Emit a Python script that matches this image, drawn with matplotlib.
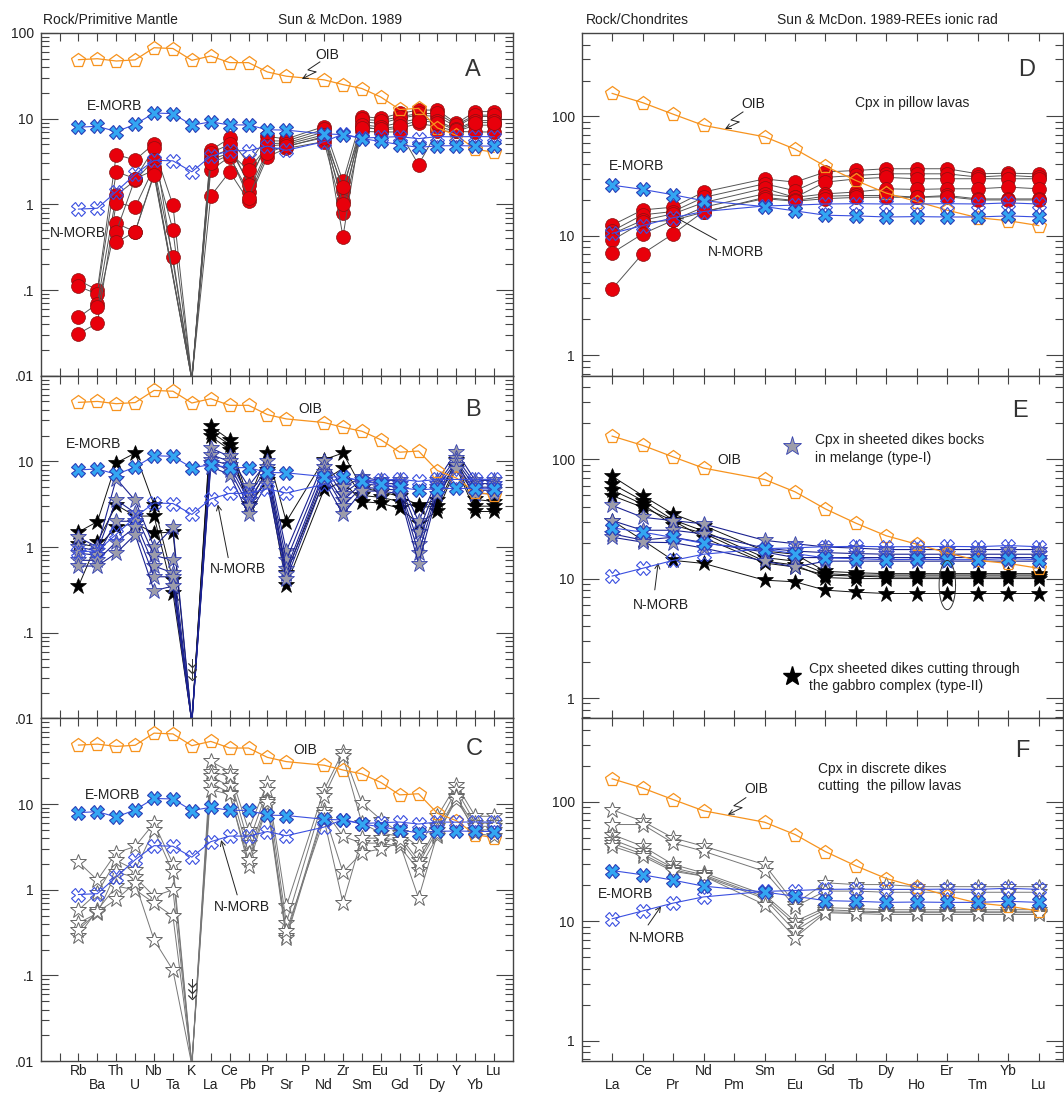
import numpy as np
import matplotlib
matplotlib.use("Agg")
import matplotlib.pyplot as plt
from matplotlib import font_manager
from matplotlib.path import Path
from matplotlib.ticker import FixedLocator, FixedFormatter, NullLocator

_names = {f.name for f in font_manager.fontManager.ttflist}
BASE = "Liberation Sans" if "Liberation Sans" in _names else "DejaVu Sans"
NARROW = "Liberation Sans Narrow" if "Liberation Sans Narrow" in _names else BASE
plt.rcParams["font.family"] = [BASE, "DejaVu Sans"]

nan = np.nan

# ---------------------------------------------------------------- elements
spider_elements = ["Rb", "Ba", "Th", "U", "Nb", "Ta", "K", "La", "Ce", "Pb", "Pr", "Sr",
                   "P", "Nd", "Zr", "Sm", "Eu", "Gd", "Ti", "Dy", "Y", "Yb", "Lu"]
ree_elements = ["La", "Ce", "Pr", "Nd", "Pm", "Sm", "Eu", "Gd", "Tb", "Dy", "Ho", "Er",
                "Tm", "Yb", "Lu"]

# ------------------------------------------- reference basalts (primitive mantle)
oib_pm = [48.8, 50.1, 47.1, 48.6, 67.3, 65.9, 48.0, 53.9, 45.1, 45.1, 35.1, 31.3,
          nan, 28.4, 25.0, 22.5, 17.9, 12.8, 13.2, 7.8, 6.4, 4.4, 4.05]
emorb_pm = [7.94, 8.16, 7.06, 8.57, 11.64, 11.46, 8.4, 9.17, 8.45, 8.45, 7.43, 7.35,
            nan, 6.65, 6.52, 5.86, 5.42, 4.98, 4.62, 4.82, 4.84, 4.81, 4.78]
nmorb_pm = [0.88, 0.90, 1.41, 2.24, 3.27, 3.22, 2.4, 3.64, 4.23, 4.23, 4.78, 4.27,
            nan, 5.39, 6.6, 5.92, 6.07, 6.17, 5.85, 6.17, 6.15, 6.19, 6.15]

# ------------------------------------------------ reference basalts (chondrite)
oib_ch = [156, 130.5, 104.5, 84.2, nan, 67.6, 53.3, 38.3, 29.1, 22.8, 19.4, 16.4, 14.2, 13.4, 12.2]
emorb_ch = [26.6, 24.5, 22.1, 19.7, nan, 17.6, 16.2, 14.9, 14.7, 14.4, 14.5, 14.4, 14.4, 14.7, 14.4]
nmorb_ch = [10.5, 12.2, 14.2, 16.0, nan, 17.8, 18.1, 18.5, 18.6, 18.5, 18.5, 18.6, 18.5, 18.9, 18.5]

# ------------------------------------------- A: cpx in pillow lavas (spider)
pillow_pm = [
    [0.13, 0.10, 3.8, 3.3, 5.1, nan, 0.009, 4.3, 5.9, 3.0, 6.2, 5.8, nan, 8.1, 1.85, 10.6, 10.1, 11.5, 12.6, 12.6, 8.8, 12.1, 12.1],
    [0.11, 0.09, 2.4, 2.0, 4.5, 0.98, 0.009, 3.6, 4.4, 1.85, 5.1, 5.2, nan, 7.0, 1.45, 9.2, 8.8, 10.1, 11.0, 10.6, 8.1, 10.6, 10.6],
    [0.048, 0.069, 1.28, 1.9, 3.3, 0.5, 0.009, 2.5, 3.6, 1.4, 4.3, 4.7, nan, 6.2, 1.1, 8.1, 7.4, 7.7, 8.8, 8.1, 7.1, 8.4, 8.4],
    [0.031, 0.041, 1.05, 0.93, 2.7, 0.24, 0.009, 1.25, 2.4, 1.1, 3.6, 4.5, nan, 5.4, 0.79, 7.1, 7.0, 7.0, 2.9, 7.2, 7.1, 7.0, 7.0],
    [nan, 0.063, 0.6, 0.48, 2.3, nan, 0.009, 4.0, 5.0, 1.7, 5.5, 5.5, nan, 7.5, 0.42, 9.8, 9.5, 10.5, 11.5, 11.5, 8.5, 11.0, 11.0],
    [nan, nan, 0.48, 2.0, 2.5, nan, 0.009, 3.3, 4.0, 2.5, 4.8, 5.0, nan, 6.5, 1.0, 8.5, 8.0, 9.0, 10.0, 9.5, 7.5, 9.5, 9.5],
    [nan, nan, 0.36, 0.48, 2.2, nan, 0.009, 3.0, 3.8, 1.2, 4.0, 4.8, nan, 6.0, 1.6, 7.8, 7.6, 8.2, 9.5, 9.0, 7.3, 9.0, 9.0],
]

# ------------------------------------ B: sheeted dikes, type-I and type-II (spider)
dikes_type1_pm = [
    [1.3, 1.0, 6.3, 3.5, 1.0, 1.7, 0.009, 14.3, 11.4, 5.1, 10.0, 0.9, nan, 10.0, 5.0, 6.5, 6.0, 6.0, 2.0, 6.0, 13.0, 6.0, 6.0],
    [1.0, 0.9, 3.55, 2.5, 0.8, 0.7, 0.009, 12.0, 10.0, 4.0, 8.5, 0.7, nan, 8.5, 4.2, 6.0, 5.5, 5.5, 1.5, 5.5, 11.0, 5.5, 5.5],
    [0.85, 0.8, 2.0, 2.0, 0.6, 0.5, 0.009, 10.5, 9.0, 3.5, 7.5, 0.55, nan, 7.5, 3.5, 5.5, 5.2, 5.0, 1.1, 5.0, 10.0, 5.0, 5.0],
    [0.7, 0.7, 1.15, 1.7, 0.45, 0.45, 0.009, 9.5, 8.0, 3.0, 6.5, 0.48, nan, 7.0, 3.0, 5.0, 4.8, 4.6, 0.85, 4.6, 9.0, 4.6, 4.6],
    [0.6, 0.6, 0.85, 1.4, 0.31, 0.35, 0.009, 8.7, 7.0, 2.4, 5.5, 0.42, nan, 6.0, 2.4, 4.5, 4.5, 4.2, 0.64, 4.2, 8.2, 4.2, 4.2],
]
dikes_type2_pm = [
    [1.5, 1.98, 9.6, 12.5, 3.1, 0.41, 0.009, 25.7, 17.9, 3.5, 12.5, 1.98, nan, 10.5, 12.5, 4.9, 4.45, 3.9, 3.1, 3.55, 10.5, 3.6, 3.4],
    [0.35, 1.15, 3.1, 2.3, 2.3, 0.29, 0.009, 22.0, 15.7, 3.0, 6.1, 0.36, nan, 4.7, 5.8, 3.4, 3.25, 2.84, 1.9, 2.6, 8.5, 2.6, 2.6],
    [1.1, 1.0, 1.7, 1.9, 1.45, 1.5, 0.009, 19.6, 13.7, 3.2, 8.0, 0.5, nan, 6.0, 8.3, 4.0, 3.8, 3.4, 2.9, 3.0, 9.0, 3.0, 3.0],
]

# ------------------------------------------------ C: discrete dikes (spider)
discrete_pm = [
    [2.1, 1.3, 2.7, 3.2, 6.0, 2.0, 0.009, 31.5, 24.0, 5.0, 17.6, 0.64, nan, 14.7, 41.0, 10.3, 6.6, 4.6, 3.2, 7.2, 16.8, 7.2, 7.2],
    [0.58, 0.92, 2.2, 1.7, 5.0, 1.6, 0.009, 24.0, 21.0, 3.5, 14.7, 0.41, nan, 12.3, 36.0, 6.0, 4.6, 4.2, 2.2, 5.5, 14.7, 6.0, 6.0],
    [0.41, 0.53, 1.6, 1.4, 0.84, 1.0, 0.009, 21.0, 16.2, 2.7, 11.2, 0.29, nan, 8.6, 4.2, 3.5, 3.5, 3.2, 1.7, 4.2, 12.3, 4.6, 4.2],
    [0.29, 0.58, 1.1, 1.0, 0.7, 0.49, 0.009, 17.6, 13.5, 1.9, 9.8, 0.27, nan, 7.9, 1.6, 2.7, 3.0, 3.5, 0.8, 4.5, 11.2, 5.0, 5.0],
    [0.34, 0.55, 0.77, 1.2, 0.26, 0.115, 0.009, 14.7, 13.0, 2.2, 10.5, 0.33, nan, 6.6, 0.7, 4.0, 4.0, 3.8, 2.0, 5.0, 12.0, 5.5, 5.5],
]

# ---------------------------------------------------- D: pillow lavas (REE)
pillow_ch = [
    [12.3, 16.5, 17.4, 23.3, nan, 30.0, 28.2, 34.3, 35.3, 36.5, 36.5, 36.5, 33.1, 33.5, 33.1],
    [11.0, 15.0, 16.0, 21.0, nan, 27.3, 23.9, 30.9, 32.1, 33.1, 33.1, 33.1, 31.1, 32.1, 31.1],
    [10.4, 13.5, 15.3, 19.0, nan, 25.0, 21.0, 28.2, 30.0, 30.9, 30.1, 30.1, 30.1, 30.1, 30.1],
    [9.2, 13.0, 13.5, 17.4, nan, 22.5, 21.0, 22.5, 23.3, 24.8, 24.5, 24.8, 24.8, 25.6, 24.8],
    [7.2, 10.4, 13.5, 15.8, nan, 21.0, 19.8, 21.5, 21.8, 21.8, 21.1, 21.8, 20.4, 20.4, 20.4],
    [3.6, 7.1, 10.4, 16.0, nan, 20.5, 19.5, 20.5, 21.0, 21.1, 21.0, 21.3, 20.0, 20.0, 20.0],
]

# --------------------------------------------- E: sheeted dikes (REE)
dikes_type1_ch = [
    [41.0, 32.6, 30.6, 28.7, nan, 20.9, 19.6, 18.4, 18.0, 17.5, 17.5, 17.5, 17.5, 17.5, 17.5],
    [30.6, 25.4, 25.4, 23.7, nan, 18.0, 17.0, 16.5, 16.2, 16.0, 16.0, 16.0, 16.0, 16.0, 16.0],
    [23.7, 21.0, 22.2, 20.0, nan, 16.7, 15.0, 15.0, 15.0, 15.0, 15.0, 15.0, 15.0, 15.0, 15.0],
    [22.2, 20.2, 20.0, 18.0, nan, 14.0, 12.5, 14.0, 14.0, 14.0, 14.0, 14.0, 14.0, 14.0, 14.0],
]
dikes_type2_ch = [
    [72.0, 49.5, 34.8, 27.8, nan, 17.0, 16.0, 11.5, 11.2, 11.0, 11.0, 11.0, 11.0, 11.0, 11.0],
    [62.0, 45.0, 31.0, 25.0, nan, 15.0, 14.0, 11.0, 10.7, 10.7, 10.7, 10.7, 10.7, 10.7, 10.7],
    [55.0, 42.0, 28.0, 24.0, nan, 14.0, 13.0, 10.2, 10.0, 10.0, 10.0, 10.0, 10.0, 10.0, 10.0],
    [49.5, 39.5, 30.6, 22.0, nan, 13.5, 12.5, 10.7, 10.5, 10.3, 10.3, 10.3, 10.3, 10.3, 10.3],
    [30.6, 21.0, 14.2, 13.4, nan, 9.7, 9.4, 8.0, 7.7, 7.5, 7.5, 7.5, 7.5, 7.5, 7.5],
]

# --------------------------------------------- F: discrete dikes (REE)
discrete_ch = [
    [86.0, 68.8, 49.9, 42.5, nan, 29.9, 14.0, 21.0, 20.3, 20.3, 19.5, 19.5, 19.5, 19.5, 19.5],
    [64.6, 64.6, 45.3, 38.6, nan, 26.2, 13.3, 17.9, 17.9, 17.5, 17.5, 17.5, 17.5, 17.5, 17.5],
    [53.3, 42.5, 29.9, 25.4, nan, 16.7, 10.0, 13.0, 12.8, 12.5, 12.5, 12.5, 12.5, 12.5, 12.5],
    [48.4, 38.6, 28.0, 24.5, nan, 16.0, 9.4, 12.5, 12.2, 12.0, 12.0, 12.0, 12.0, 12.0, 12.0],
    [45.0, 36.5, 27.0, 23.9, nan, 15.5, 8.3, 12.0, 11.9, 11.8, 11.8, 11.8, 11.8, 11.8, 11.8],
    [42.5, 35.1, 26.2, 23.9, nan, 13.8, 7.3, 11.8, 11.6, 11.4, 11.4, 11.4, 11.4, 11.4, 11.4],
]

# ------------------------------------------------------------------ styling
C_OIB = "#F7931E"
C_MORB_LINE = "#3A4FE0"
C_EMORB_FACE = "#33A6F2"
C_EMORB_EDGE = "#2A3FB8"
C_RED = "#E8000B"
C_NAVY = "#1B2290"
C_TEXT = "#222222"
C_SPINE = "#444444"
C_LETTER = "#333333"

W, H = 1064, 1093
fig = plt.figure(figsize=(W / 100, H / 100), dpi=100)


def rect(x0, y0, x1, y1):
    return [x0 / W, 1 - y1 / H, (x1 - x0) / W, (y1 - y0) / H]


TOPS = [33.0, 375.7, 718.4]
PH = 342.7
LEFT_X = (40.7, 513.0)
RIGHT_X = (581.7, 1062.5)

x_sp = np.arange(1, len(spider_elements) + 1)
x_ree = np.arange(1, len(ree_elements) + 1)


def series(ax, x, vals, floor=None, **kw):
    v = np.asarray(vals, dtype=float)
    m = ~np.isnan(v)
    xs, vs = x[m], v[m]
    if floor is not None and "marker" in kw:
        # below-detection values keep their line but get no symbol
        kw["markevery"] = [i for i, val in enumerate(vs) if val >= floor]
    ax.plot(xs, vs, **kw)


def refs(ax, x, oib, emorb, nmorb):
    series(ax, x, oib, color=C_OIB, lw=0.9, marker="p", ms=10, mfc="none",
           mec=C_OIB, mew=0.9, zorder=5)
    series(ax, x, nmorb, color=C_MORB_LINE, lw=0.8, marker="X", ms=9.5, mfc="none",
           mec=C_MORB_LINE, mew=0.8, zorder=6)
    series(ax, x, emorb, color=C_MORB_LINE, lw=0.8, marker="X", ms=10, mfc=C_EMORB_FACE,
           mec=C_EMORB_EDGE, mew=0.8, zorder=7)


def style_axes(ax, kind, ylabels, xlabels):
    ax.set_yscale("log")
    for s in ax.spines.values():
        s.set_color(C_SPINE)
        s.set_linewidth(1.0)
    if kind == "spider":
        ax.set_xlim(-1, 24)
        ax.set_ylim(0.01, 100)
        majors = [0.01, 0.1, 1, 10, 100]
        names = {0.01: ".01", 0.1: ".1", 1: "1", 10: "10", 100: "100"}
        minors = [k * 10.0 ** e for e in range(-2, 2) for k in range(2, 10)]
        xt = list(range(0, 24))
        lab = [""] + [el if i % 2 == 1 else "\n" + el
                      for i, el in enumerate(spider_elements, start=1)]
    else:
        ax.set_xlim(0, 15.78)
        ax.set_ylim(0.675, 500)
        majors = [1, 10, 100]
        names = {1: "1", 10: "10", 100: "100"}
        minors = [k * 10.0 ** e for e in range(-1, 3) for k in range(2, 10)
                  if 0.675 < k * 10.0 ** e < 500]
        xt = list(range(1, 16))
        lab = ["\n" + el if i % 2 == 1 else el
               for i, el in enumerate(ree_elements, start=1)]
    ax.yaxis.set_major_locator(FixedLocator(majors))
    ax.yaxis.set_major_formatter(FixedFormatter(
        [names[m] if m in ylabels else "" for m in majors]))
    ax.yaxis.set_minor_locator(FixedLocator(minors))
    ax.yaxis.set_minor_formatter(FixedFormatter([""] * len(minors)))
    ax.set_xticks(xt)
    ax.set_xticklabels(lab)
    ax.xaxis.set_minor_locator(NullLocator())
    ax.tick_params(axis="y", which="major", direction="in", length=12, width=0.8,
                   left=True, right=True, labelsize=10, pad=5, color=C_SPINE,
                   labelcolor=C_TEXT)
    ax.tick_params(axis="y", which="minor", direction="in", length=6, width=0.8,
                   left=True, right=True, color=C_SPINE)
    ax.tick_params(axis="x", which="major", direction="in", length=6, width=0.8,
                   top=True, bottom=True, labelbottom=xlabels, labelsize=10, pad=2,
                   color=C_SPINE, labelcolor=C_TEXT)
    for t in ax.get_xticklabels():
        t.set_fontfamily([NARROW, "DejaVu Sans"])
        t.set_linespacing(1.05)


def txt(ax, x, y, s, size=10, ha="center", va="center", color=C_TEXT):
    ax.text(x, y, s, transform=ax.transAxes, fontsize=size, ha=ha, va=va,
            color=color, zorder=9)


def arrow(ax, tail, tip):
    ax.annotate("", xy=tip, xytext=tail, xycoords="axes fraction",
                textcoords="axes fraction",
                arrowprops=dict(arrowstyle="->", lw=0.7, color=C_TEXT,
                                shrinkA=0, shrinkB=0, mutation_scale=9))


def zigzag(ax, tip):
    # lightning-bolt leader from a label down to a curve
    tx, ty = ax.transAxes.transform(tip)
    pts_px = [(18, 17), (6, 9), (14, 7)]
    inv = ax.transAxes.inverted()
    pts = [inv.transform((tx + dx, ty + dy)) for dx, dy in pts_px]
    xs = [p[0] for p in pts]
    ys = [p[1] for p in pts]
    ax.plot(xs, ys, transform=ax.transAxes, color=C_TEXT, lw=0.7, zorder=8)
    ax.annotate("", xy=tip, xytext=tuple(pts[-1]), xycoords="axes fraction",
                textcoords="axes fraction",
                arrowprops=dict(arrowstyle="->", lw=0.7, color=C_TEXT,
                                shrinkA=0, shrinkB=0, mutation_scale=9), zorder=8)


chevron = Path([(-1.0, 0.5), (0.0, -0.5), (1.0, 0.5)],
               [Path.MOVETO, Path.LINETO, Path.LINETO])


def k_arrow(ax, top, bottom):
    ax.plot([7, 7], [top, bottom], color="#333333", lw=0.7, zorder=8)
    vals = np.geomspace(top * 0.85, bottom, 3)
    ax.plot([7] * 3, vals, linestyle="none", marker=chevron, ms=6, mfc="none",
            mec="#333333", mew=0.9, zorder=8)


axes = {}
for i, key in enumerate("ABC"):
    axes[key] = fig.add_axes(rect(LEFT_X[0], TOPS[i], LEFT_X[1], TOPS[i] + PH))
for i, key in enumerate("DEF"):
    axes[key] = fig.add_axes(rect(RIGHT_X[0], TOPS[i], RIGHT_X[1], TOPS[i] + PH))

style_axes(axes["A"], "spider", [100, 10, 1, 0.1, 0.01], False)
style_axes(axes["B"], "spider", [10, 1, 0.1, 0.01], False)
style_axes(axes["C"], "spider", [10, 1, 0.1, 0.01], True)
for key, lab in zip("DEF", [False, False, True]):
    style_axes(axes[key], "ree", [1, 10, 100], lab)

FLOOR = 0.01

# ---------------------------------------------------------------- panel A
ax = axes["A"]
for s in pillow_pm:
    series(ax, x_sp, s, floor=FLOOR, color="#555555", lw=0.7, marker="o", ms=10,
           mfc=C_RED, mec="#8A1010", mew=0.5, zorder=3)
refs(ax, x_sp, oib_pm, emorb_pm, nmorb_pm)
txt(ax, 0.606, 0.936, "OIB")
zigzag(ax, (0.553, 0.866))
txt(ax, 0.157, 0.787, "E-MORB")
txt(ax, 0.079, 0.416, "N-MORB")
txt(ax, 0.915, 0.892, "A", size=17, color=C_LETTER)

# ---------------------------------------------------------------- panel B
ax = axes["B"]
for s in dikes_type2_pm:
    series(ax, x_sp, s, floor=FLOOR, color="#111111", lw=0.7, marker="*", ms=12,
           mfc="black", mec="black", mew=0.5, zorder=3)
for s in dikes_type1_pm:
    series(ax, x_sp, s, floor=FLOOR, color=C_NAVY, lw=0.8, marker="*", ms=12,
           mfc="#9C9CAA", mec="#3340B0", mew=0.6, zorder=3)
refs(ax, x_sp, oib_pm, emorb_pm, nmorb_pm)
k_arrow(ax, 0.05, 0.03)
txt(ax, 0.571, 0.904, "OIB")
txt(ax, 0.111, 0.801, "E-MORB")
txt(ax, 0.418, 0.437, "N-MORB")
arrow(ax, (0.397, 0.469), (0.375, 0.624))
txt(ax, 0.915, 0.901, "B", size=17, color=C_LETTER)

# ---------------------------------------------------------------- panel C
ax = axes["C"]
for s in discrete_pm:
    series(ax, x_sp, s, floor=FLOOR, color="#777777", lw=0.7, marker="*", ms=12,
           mfc="white", mec="#666666", mew=0.7, zorder=3)
refs(ax, x_sp, oib_pm, emorb_pm, nmorb_pm)
k_arrow(ax, 0.09, 0.056)
txt(ax, 0.560, 0.908, "OIB")
txt(ax, 0.153, 0.777, "E-MORB")
txt(ax, 0.427, 0.449, "N-MORB")
arrow(ax, (0.416, 0.485), (0.382, 0.645))
txt(ax, 0.919, 0.911, "C", size=17, color=C_LETTER)

# ---------------------------------------------------------------- panel D
ax = axes["D"]
for s in pillow_ch:
    series(ax, x_ree, s, color="#555555", lw=0.7, marker="o", ms=10, mfc=C_RED,
           mec="#8A1010", mew=0.5, zorder=3)
refs(ax, x_ree, oib_ch, emorb_ch, nmorb_ch)
txt(ax, 0.356, 0.793, "OIB")
zigzag(ax, (0.298, 0.720))
txt(ax, 0.687, 0.796, "Cpx in pillow lavas")
txt(ax, 0.115, 0.612, "E-MORB")
txt(ax, 0.321, 0.361, "N-MORB")
arrow(ax, (0.281, 0.396), (0.198, 0.460))
txt(ax, 0.926, 0.892, "D", size=17, color=C_LETTER)

# ---------------------------------------------------------------- panel E
ax = axes["E"]
for s in dikes_type2_ch:
    series(ax, x_ree, s, color="#111111", lw=0.7, marker="*", ms=12, mfc="black",
           mec="black", mew=0.5, zorder=3)
for s in dikes_type1_ch:
    series(ax, x_ree, s, color=C_NAVY, lw=0.8, marker="*", ms=12, mfc="#9C9CAA",
           mec="#3340B0", mew=0.6, zorder=3)
refs(ax, x_ree, oib_ch, emorb_ch, nmorb_ch)
t = np.linspace(0, 2 * np.pi, 120)
ax.plot(12 + 0.27 * np.cos(t), 10 ** (0.946 + 0.206 * np.sin(t)),
        color="#333333", lw=0.7, zorder=8)
txt(ax, 0.308, 0.753, "OIB")
txt(ax, 0.165, 0.332, "N-MORB")
arrow(ax, (0.152, 0.375), (0.159, 0.454))
ax.plot([0.437], [0.794], transform=ax.transAxes, marker="*", ms=14, mfc="#9C9CAA",
        mec="#3340B0", mew=0.6, linestyle="none", clip_on=False)
txt(ax, 0.485, 0.812, "Cpx in sheeted dikes bocks", ha="left")
txt(ax, 0.485, 0.759, "in melange (type-I)", ha="left")
ax.plot([0.437], [0.123], transform=ax.transAxes, marker="*", ms=14, mfc="black",
        mec="black", linestyle="none", clip_on=False)
txt(ax, 0.473, 0.144, "Cpx sheeted dikes cutting through", ha="left")
txt(ax, 0.473, 0.094, "the gabbro complex (type-II)", ha="left")
txt(ax, 0.912, 0.896, "E", size=17, color=C_LETTER)

# ---------------------------------------------------------------- panel F
ax = axes["F"]
for s in discrete_ch:
    series(ax, x_ree, s, color="#777777", lw=0.7, marker="*", ms=12, mfc="white",
           mec="#666666", mew=0.7, zorder=3)
refs(ax, x_ree, oib_ch, emorb_ch, nmorb_ch)
txt(ax, 0.363, 0.795, "OIB")
zigzag(ax, (0.304, 0.719))
txt(ax, 0.492, 0.853, "Cpx in discrete dikes", ha="left")
txt(ax, 0.492, 0.803, "cutting  the pillow lavas", ha="left")
txt(ax, 0.092, 0.488, "E-MORB")
txt(ax, 0.157, 0.359, "N-MORB")
arrow(ax, (0.138, 0.397), (0.165, 0.452))
txt(ax, 0.916, 0.905, "F", size=17, color=C_LETTER)


# ---------------------------------------------------------------- headers
def header(x, s):
    fig.text(x / W, 1 - 20 / H, s, fontsize=10, ha="left", va="center", color=C_TEXT)


header(43, "Rock/Primitive Mantle")
header(278, "Sun & McDon. 1989")
header(586, "Rock/Chondrites")
header(777, "Sun & McDon. 1989-REEs ionic rad")

fig.savefig("out.png", dpi=100, facecolor="white")
